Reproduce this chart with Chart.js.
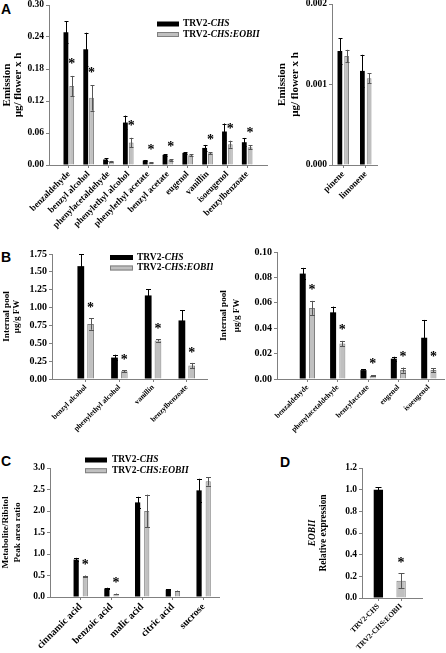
<!DOCTYPE html>
<html>
<head>
<meta charset="utf-8">
<script src="https://cdn.jsdelivr.net/npm/chart.js@4.4.0/dist/chart.umd.min.js"></script>
<style>
html, body { margin: 0; padding: 0; background: #fff; }
#fig { position: relative; width: 446px; height: 653px; overflow: hidden; background: #fff; }
#fig canvas { position: absolute; }
.lbl { position: absolute; font: bold 14px "Liberation Sans", Arial, sans-serif; line-height: 14px; color: #000; }
</style>
</head>
<body>
<div id="fig">
  <div class="lbl" style="left:1px;top:2px">A</div>
  <div class="lbl" style="left:1px;top:250px">B</div>
  <div class="lbl" style="left:1px;top:454px">C</div>
  <div class="lbl" style="left:280px;top:455px">D</div>
</div>
<script>
// series names (second part is italic)
const seriesNames = [['TRV2-', 'CHS'], ['TRV2-', 'CHS:EOBII']];

// A left: emission, µg/flower x h
const emisCats = ['benzaldehyde', 'benzyl alcohol', 'phenylacetaldehyde', 'phenylethyl alcohol', 'phenylethyl acetate',
  'benzyl acetate', 'eugenol', 'vanillin', 'isoeugenol', 'benzylbenzoate'];
const emisChs    = [0.249, 0.217, 0.0103, 0.0796, 0.0084, 0.019, 0.0227, 0.032, 0.0628, 0.0427];
const emisChsErr = [0.021, 0.031, 0.002, 0.013, 0.001, 0.0015, 0.0015, 0.0056, 0.015, 0.008];
const emisEob    = [0.148, 0.126, 0.0066, 0.042, 0.0047, 0.0096, 0.0184, 0.0221, 0.039, 0.0334];
const emisEobErr = [0.019, 0.024, 0.001, 0.009, 0.0007, 0.0015, 0.002, 0.002, 0.0065, 0.004];
const emisSig    = [1, 1, 0, 1, 1, 1, 0, 1, 1, 1];
const emisTicks  = [0, 0.06, 0.12, 0.18, 0.24, 0.30];

// A right: terpenes
const terpCats    = ['pinene', 'limonene'];
const terpChs     = [0.001416, 0.001169];
const terpChsErr  = [0.00016, 0.0002];
const terpEob     = [0.001354, 0.001078];
const terpEobErr  = [0.000077, 0.00006];
const terpSig     = [0, 0];
const terpTicks   = [0, 0.001, 0.002];

// B left: internal pool, µg/g FW
const poolCats    = ['benzyl alcohol', 'phenylethyl alcohol', 'vanillin', 'benzylbenzoate'];
const poolChs     = [1.58, 0.30, 1.17, 0.82];
const poolChsErr  = [0.17, 0.04, 0.09, 0.14];
const poolEob     = [0.77, 0.11, 0.54, 0.19];
const poolEobErr  = [0.08, 0.015, 0.015, 0.035];
const poolSig     = [1, 1, 1, 1];
const poolTicks   = [0, 0.25, 0.5, 0.75, 1.0, 1.25, 1.5, 1.75];

// B right
const pool2Cats   = ['benzaldehyde', 'phenylacetaldehyde', 'benzylacetate', 'eugenol', 'isoeugenol'];
const pool2Chs    = [0.083, 0.0525, 0.007, 0.016, 0.0325];
const pool2ChsErr = [0.0045, 0.0045, 0.0005, 0.0015, 0.014];
const pool2Eob    = [0.056, 0.028, 0.0025, 0.007, 0.007];
const pool2EobErr = [0.0055, 0.002, 0.0004, 0.002, 0.0015];
const pool2Sig    = [1, 1, 1, 1, 1];
const pool2Ticks  = [0, 0.02, 0.04, 0.06, 0.08, 0.10];

// C: metabolite/ribitol peak area ratio
const metCats    = ['cinnamic acid', 'benzoic acid', 'malic acid', 'citric acid', 'sucrose'];
const metChs     = [0.87, 0.20, 2.20, 0.17, 2.48];
const metChsErr  = [0.04, 0.015, 0.13, 0.01, 0.27];
const metEob     = [0.48, 0.07, 2.00, 0.14, 2.69];
const metEobErr  = [0.02, 0.01, 0.38, 0.01, 0.10];
const metSig     = [1, 1, 0, 0, 0];
const metTicks   = [0, 0.5, 1.0, 1.5, 2.0, 2.5, 3.0];

// D: EOBII relative expression
const exprCats   = ['TRV2-CHS', 'TRV2-CHS:EOBII'];
const exprVals   = [1.0, 0.16];
const exprErr    = [0.02, 0.067];
const exprSig    = [0, 1];
const exprTicks  = [0, 0.2, 0.4, 0.6, 0.8, 1.0, 1.2];

const SERIF = '"Liberation Serif", "Times New Roman", serif';
const BLACK = '#000000', GREY = '#c0c0c0', GREY_LINE = '#808080', ERR_GREY = '#555555';
const PAD_RIGHT = 6;

// error bars + asterisks
const errPlugin = {
  id: 'errbars',
  afterDatasetsDraw(chart, args, o) {
    const ctx = chart.ctx, ys = chart.scales.y;
    const tops = [];
    chart.data.datasets.forEach((ds, di) => {
      const meta = chart.getDatasetMeta(di);
      tops[di] = [];
      meta.data.forEach((bar, i) => {
        const v = ds.data[i].y, e = ds.err[i];
        const t = ys.getPixelForValue(v + e), b = ys.getPixelForValue(Math.max(v - e, 0));
        const x = Math.round(bar.x) + 0.5;
        ctx.save();
        ctx.strokeStyle = Array.isArray(ds.errColor) ? ds.errColor[i] : ds.errColor;
        ctx.lineWidth = 1;
        ctx.beginPath();
        ctx.moveTo(x, t); ctx.lineTo(x, b);
        ctx.moveTo(x - o.cap, Math.round(t) + 0.5); ctx.lineTo(x + o.cap, Math.round(t) + 0.5);
        ctx.moveTo(x - o.cap, Math.round(b) + 0.5); ctx.lineTo(x + o.cap, Math.round(b) + 0.5);
        ctx.stroke();
        ctx.restore();
        tops[di][i] = {x: bar.x, t};
      });
    });
    const sd = tops[o.sigDs];
    ctx.save();
    ctx.fillStyle = '#000';
    ctx.textAlign = 'center';
    ctx.textBaseline = 'alphabetic';
    ctx.font = `bold ${o.starSize}px ${SERIF}`;
    o.sig.forEach((s, i) => {
      if (!s) return;
      ctx.fillText('*', sd[i].x, sd[i].t - o.starGap + o.starSize * 0.5);
    });
    ctx.restore();
  }
};

// legend with italic line parts
const legendPlugin = {
  id: 'mixLegend',
  afterDraw(chart, args, o) {
    if (!o.items) return;
    const ctx = chart.ctx;
    ctx.save();
    o.items.forEach((it, k) => {
      const y = o.y + k * o.row;
      ctx.fillStyle = it.fill;
      ctx.fillRect(o.x, y - o.sh / 2, o.sw, o.sh);
      if (it.stroke) {
        ctx.strokeStyle = it.stroke; ctx.lineWidth = 1;
        ctx.strokeRect(o.x + 0.5, y - o.sh / 2 + 0.5, o.sw - 1, o.sh - 1);
      }
      let tx = o.x + o.sw + o.gap;
      ctx.fillStyle = '#000';
      ctx.textBaseline = 'middle';
      it.parts.forEach((p, j) => {
        ctx.font = `${j ? 'italic ' : ''}bold ${o.size}px ${SERIF}`;
        ctx.fillText(p, tx, y);
        tx += ctx.measureText(p).width;
      });
    });
    ctx.restore();
  }
};

// rotated y titles, one font per line
const sideTitle = {
  id: 'sideTitle',
  afterDraw(chart, args, o) {
    if (!o.lines) return;
    const ctx = chart.ctx, a = chart.chartArea;
    const cy = (a.top + a.bottom) / 2;
    o.lines.forEach(l => {
      ctx.save();
      ctx.fillStyle = '#000';
      ctx.textAlign = 'center';
      ctx.textBaseline = 'middle';
      ctx.translate(l.x, cy);
      ctx.rotate(-Math.PI / 2);
      ctx.font = `${l.italic ? 'italic ' : ''}bold ${o.size}px ${SERIF}`;
      ctx.fillText(l.text, 0, 0);
      ctx.restore();
    });
  }
};

Chart.register(errPlugin, legendPlugin, sideTitle);

function makePanel(o) {
  const pt = o.pt || 8;
  const cTop = o.top - pt;
  const cv = document.createElement('canvas');
  cv.width = Math.round(o.x1 - o.left + PAD_RIGHT);
  cv.height = Math.round(o.bottom - o.top + pt + o.xh);
  cv.style.left = o.left + 'px';
  cv.style.top = cTop + 'px';
  document.getElementById('fig').appendChild(cv);

  const datasets = o.series.map(s => ({
    data: s.values.map((v, i) => ({x: i, y: v})),
    err: s.err,
    errColor: s.errColor,
    backgroundColor: s.fill,
    borderColor: s.stroke || 'rgba(0,0,0,0)',
    borderWidth: s.bw || 0,
    barPercentage: o.bp,
    categoryPercentage: o.cp
  }));

  let legend = {};
  if (o.legend) {
    legend = Object.assign({}, o.legend, {
      x: o.legend.x - o.left, y: o.legend.y - cTop,
      items: [
        {fill: BLACK, parts: seriesNames[0]},
        {fill: GREY, stroke: GREY_LINE, parts: seriesNames[1]}
      ]
    });
  }

  return new Chart(cv.getContext('2d'), {
    type: 'bar',
    data: {datasets},
    options: {
      responsive: false,
      animation: false,
      layout: {padding: {top: pt, right: PAD_RIGHT, left: 0, bottom: 0}},
      plugins: {
        legend: {display: false},
        tooltip: {enabled: false},
        errbars: {sig: o.sig, sigDs: o.sigDs, cap: o.cap, starGap: o.starGap, starSize: 14},
        mixLegend: legend,
        sideTitle: {size: o.tsize, lines: o.titles}
      },
      scales: {
        x: {
          type: 'linear', bounds: 'data', offset: false,
          min: o.xmin, max: o.xmax,
          afterBuildTicks: s => { s.ticks = o.cats.map((c, i) => ({value: i})); },
          afterFit: s => { s.height = o.xh; },
          ticks: {
            autoSkip: false, minRotation: 45, maxRotation: 45, padding: 1, color: '#000',
            font: {family: SERIF, weight: 'bold', size: o.xfs},
            callback: v => o.cats[v] ?? ''
          },
          grid: {offset: false, drawOnChartArea: false, drawTicks: true, tickLength: 3, color: GREY_LINE},
          border: {color: GREY_LINE, width: 1}
        },
        y: {
          min: 0, max: o.yticks[o.yticks.length - 1],
          afterBuildTicks: s => { s.ticks = o.yticks.map(v => ({value: v})); },
          afterFit: s => { s.width = o.w; },
          ticks: {
            padding: 2, color: '#000',
            font: {family: SERIF, weight: 'bold', size: o.yfs},
            callback: v => Number(v).toFixed(o.dec)
          },
          grid: {drawOnChartArea: false, drawTicks: true, tickLength: 3, color: GREY_LINE},
          border: {color: GREY_LINE, width: 1}
        }
      }
    }
  });
}

function pair(chs, chsErr, eob, eobErr) {
  return [
    {values: chs, err: chsErr, fill: BLACK, errColor: BLACK},
    {values: eob, err: eobErr, fill: GREY, stroke: GREY_LINE, bw: 1, errColor: ERR_GREY}
  ];
}

// A left
makePanel({
  left: 0, w: 49, x1: 267, top: 5, bottom: 165, xh: 80,
  xmin: -1, xmax: 10, cp: 0.586, bp: 0.83, xfs: 9, yfs: 9.5, dec: 2,
  cats: emisCats, yticks: emisTicks, series: pair(emisChs, emisChsErr, emisEob, emisEobErr),
  sig: emisSig, sigDs: 1, cap: 2, starGap: 15,
  tsize: 11, titles: [{text: 'Emission', x: 7}, {text: 'µg/ flower x h', x: 18.5}],
  legend: {x: 157, y: 24, row: 10.5, sw: 22, sh: 5, gap: 4, size: 9.5}
});

// A right
makePanel({
  left: 273, w: 59, x1: 377, top: 4, bottom: 165, xh: 50,
  xmin: -0.5, xmax: 1.5, cp: 0.6, bp: 0.7, xfs: 9, yfs: 9.5, dec: 3,
  cats: terpCats, yticks: terpTicks, series: pair(terpChs, terpChsErr, terpEob, terpEobErr),
  sig: terpSig, sigDs: 1, cap: 2, starGap: 15,
  tsize: 11, titles: [{text: 'Emission', x: 9}, {text: 'µg/ flower x h', x: 22}]
});

// B left
makePanel({
  left: 0, w: 52, x1: 207, top: 254, bottom: 379, xh: 55,
  xmin: -1, xmax: 3.6, cp: 0.58, bp: 0.69, xfs: 7.5, yfs: 10, dec: 2,
  cats: poolCats, yticks: poolTicks, series: pair(poolChs, poolChsErr, poolEob, poolEobErr),
  sig: poolSig, sigDs: 1, cap: 2.5, starGap: 13,
  tsize: 9, titles: [{text: 'Internal pool', x: 6.5}, {text: 'µg/g FW', x: 16.5}],
  legend: {x: 110, y: 257.5, row: 10.5, sw: 23, sh: 5, gap: 4, size: 9.5}
});

// B right
makePanel({
  left: 215, w: 62, x1: 444, top: 252, bottom: 379, xh: 55,
  xmin: -1, xmax: 4.5, cp: 0.61, bp: 0.65, xfs: 7.5, yfs: 10, dec: 2,
  cats: pool2Cats, yticks: pool2Ticks, series: pair(pool2Chs, pool2ChsErr, pool2Eob, pool2EobErr),
  sig: pool2Sig, sigDs: 1, cap: 2.5, starGap: 14,
  tsize: 9, titles: [{text: 'Internal pool', x: 9}, {text: 'µg/g FW', x: 22}]
});

// C
makePanel({
  left: 0, w: 50, x1: 219, top: 468, bottom: 597, xh: 56, pt: 20,
  xmin: -1, xmax: 4.5, cp: 0.595, bp: 0.57, xfs: 10, yfs: 9.5, dec: 1,
  cats: metCats, yticks: metTicks, series: pair(metChs, metChsErr, metEob, metEobErr),
  sig: metSig, sigDs: 1, cap: 2.5, starGap: 14,
  tsize: 9.2, titles: [{text: 'Metabolite/Ribitol', x: 6}, {text: 'Peak area ratio', x: 18}],
  legend: {x: 85, y: 460, row: 10.7, sw: 22, sh: 5, gap: 5, size: 9.5}
});

// D
makePanel({
  left: 300, w: 62, x1: 422, top: 468, bottom: 598, xh: 55,
  xmin: -0.72, xmax: 1.92, cp: 1, bp: 0.41, xfs: 7.5, yfs: 9.5, dec: 1,
  cats: exprCats, yticks: exprTicks,
  series: [{values: exprVals, err: exprErr, fill: [BLACK, GREY], stroke: [BLACK, GREY_LINE], bw: [0, 1], errColor: [BLACK, ERR_GREY]}],
  sig: exprSig, sigDs: 0, cap: 3, starGap: 13,
  tsize: 9.4, titles: [{text: 'EOBII', x: 13, italic: true}, {text: 'Relative expression', x: 24}]
});
</script>
</body>
</html>
